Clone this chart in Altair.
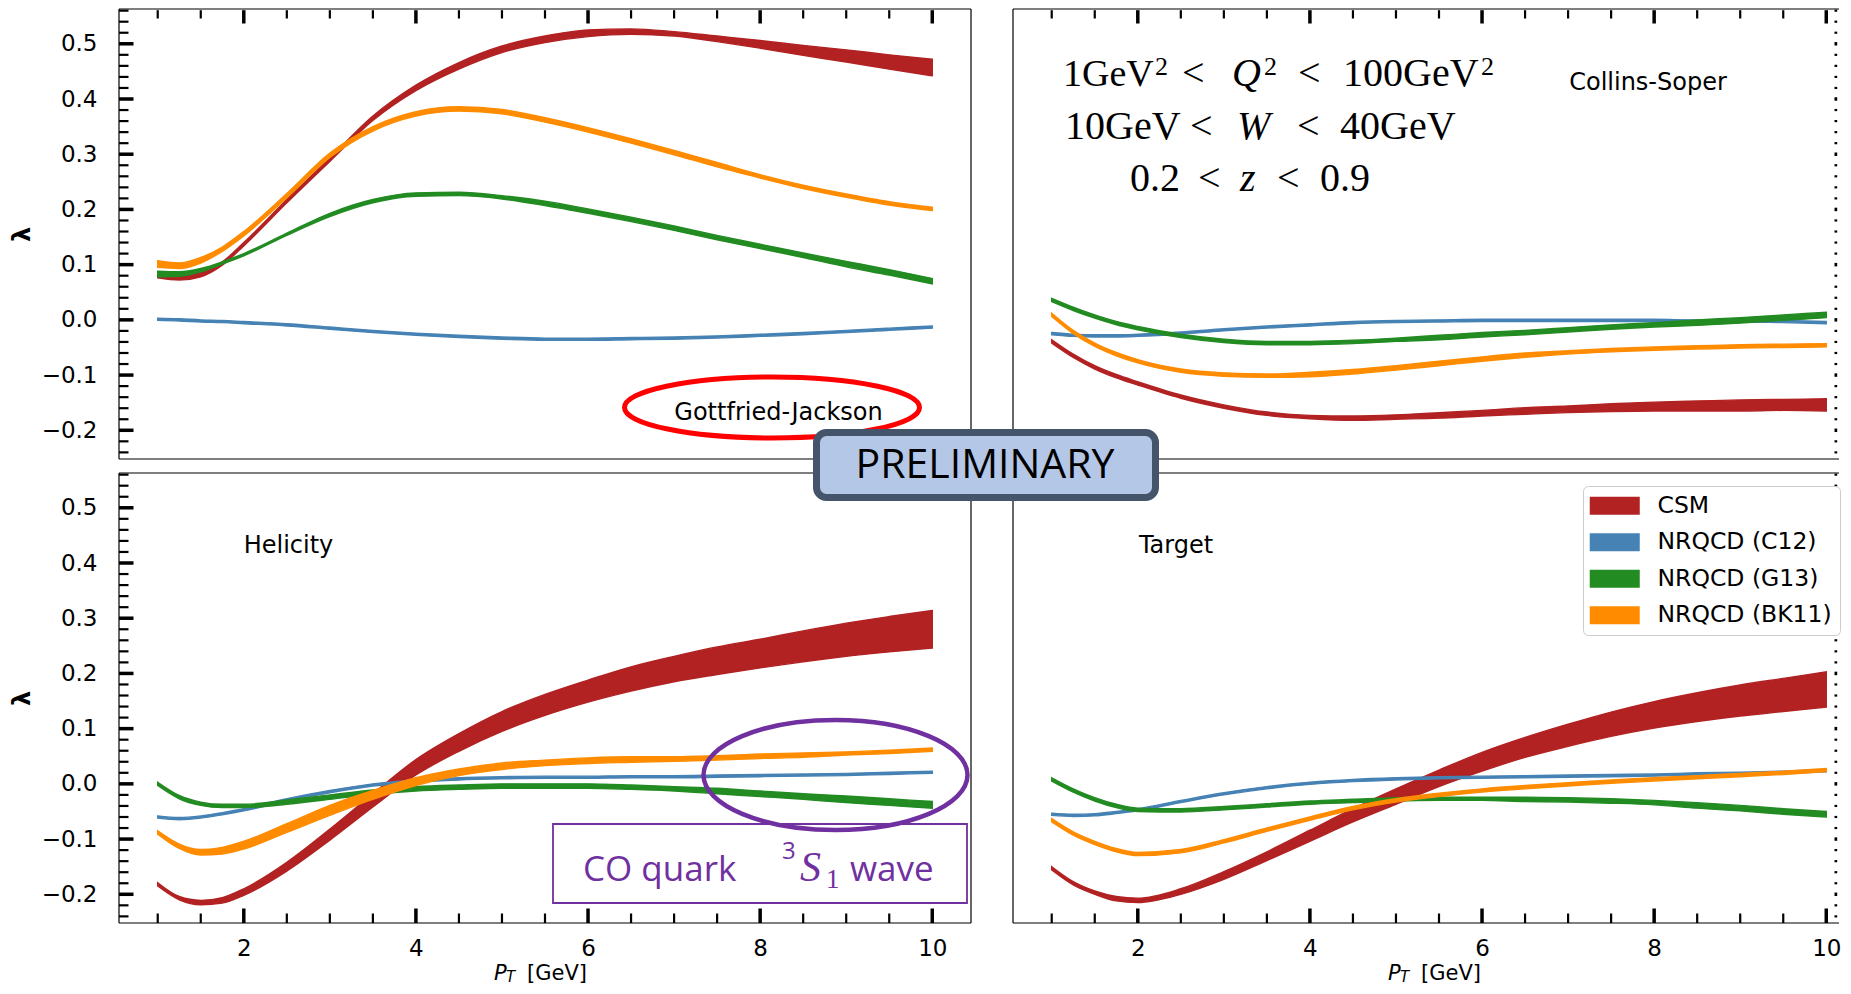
import altair as alt
import pandas as pd

# ---------------- data ----------------
PT = [1.0, 1.25, 1.5, 1.75, 2.0, 2.5, 3.0, 3.5, 4.0, 4.5, 5.0, 5.5, 6.0, 6.5, 7.0, 7.5, 8.0, 8.5, 9.0, 9.5, 10.0]
SERIES = ["CSM", "NRQCD (C12)", "NRQCD (G13)", "NRQCD (BK11)"]
COLORS = ["#b22222", "#4682b4", "#228b22", "#ff8c00"]
FRAMES = ["Gottfried-Jackson", "Collins-Soper", "Helicity", "Target"]

# Gottfried-Jackson (centre of band, half width of band)
GJ_CSM = [0.080, 0.076, 0.082, 0.102, 0.137, 0.215, 0.290, 0.365, 0.420, 0.460, 0.490, 0.508, 0.519, 0.522, 0.518, 0.509, 0.499, 0.488, 0.478, 0.467, 0.457]
GJ_CSM_HW = [0.004, 0.004, 0.004, 0.003, 0.003, 0.003, 0.003, 0.004, 0.005, 0.006, 0.006, 0.006, 0.006, 0.005, 0.004, 0.005, 0.007, 0.009, 0.011, 0.013, 0.015]
GJ_C12 = [0.001, 0.000, -0.002, -0.003, -0.005, -0.009, -0.015, -0.021, -0.026, -0.030, -0.033, -0.035, -0.035, -0.034, -0.033, -0.031, -0.028, -0.025, -0.021, -0.017, -0.013]
GJ_C12_HW = [0.002] * 21
GJ_G13 = [0.083, 0.083, 0.090, 0.103, 0.118, 0.155, 0.190, 0.215, 0.227, 0.228, 0.222, 0.211, 0.197, 0.182, 0.166, 0.149, 0.133, 0.117, 0.101, 0.086, 0.070]
GJ_G13_HW = [0.005, 0.004, 0.003, 0.002, 0.002, 0.002, 0.003, 0.003, 0.003, 0.003, 0.003, 0.004, 0.004, 0.004, 0.004, 0.004, 0.004, 0.004, 0.005, 0.005, 0.005]
GJ_BK11 = [0.101, 0.098, 0.108, 0.128, 0.156, 0.225, 0.298, 0.346, 0.373, 0.382, 0.377, 0.362, 0.344, 0.324, 0.303, 0.281, 0.260, 0.241, 0.225, 0.211, 0.201]
GJ_BK11_HW = [0.006, 0.005, 0.005, 0.004, 0.004, 0.004, 0.004, 0.004, 0.004, 0.004, 0.004, 0.004, 0.004, 0.004, 0.004, 0.004, 0.003, 0.003, 0.003, 0.003, 0.003]

# Collins-Soper
CS_CSM = [-0.039, -0.065, -0.086, -0.102, -0.115, -0.139, -0.157, -0.170, -0.176, -0.178, -0.176, -0.173, -0.169, -0.165, -0.162, -0.159, -0.157, -0.156, -0.155, -0.154, -0.154]
CS_CSM_HW = [0.003, 0.003, 0.003, 0.003, 0.003, 0.003, 0.003, 0.003, 0.003, 0.004, 0.004, 0.005, 0.005, 0.006, 0.006, 0.007, 0.008, 0.009, 0.010, 0.010, 0.011]
CS_C12 = [-0.025, -0.028, -0.029, -0.029, -0.028, -0.024, -0.018, -0.013, -0.009, -0.005, -0.003, -0.002, -0.001, -0.001, -0.001, -0.001, -0.001, -0.002, -0.002, -0.003, -0.005]
CS_C12_HW = [0.002] * 21
CS_G13 = [0.036, 0.020, 0.006, -0.006, -0.015, -0.029, -0.038, -0.042, -0.042, -0.040, -0.036, -0.032, -0.027, -0.023, -0.018, -0.013, -0.009, -0.005, -0.001, 0.004, 0.009]
CS_G13_HW = [0.003, 0.003, 0.003, 0.003, 0.003, 0.003, 0.003, 0.003, 0.003, 0.003, 0.003, 0.004, 0.004, 0.004, 0.004, 0.004, 0.004, 0.005, 0.005, 0.005, 0.005]
CS_BK11 = [0.009, -0.022, -0.045, -0.062, -0.075, -0.092, -0.099, -0.101, -0.099, -0.094, -0.087, -0.079, -0.071, -0.064, -0.059, -0.055, -0.052, -0.050, -0.048, -0.047, -0.046]
CS_BK11_HW = [0.003, 0.003, 0.003, 0.003, 0.003, 0.003, 0.003, 0.003, 0.004, 0.004, 0.004, 0.004, 0.004, 0.004, 0.003, 0.003, 0.003, 0.003, 0.003, 0.003, 0.003]

# Helicity
HX_CSM = [-0.182, -0.207, -0.215, -0.211, -0.196, -0.150, -0.092, -0.030, 0.030, 0.075, 0.113, 0.143, 0.168, 0.190, 0.208, 0.223, 0.236, 0.249, 0.261, 0.271, 0.280]
HX_CSM_HW = [0.003, 0.003, 0.004, 0.005, 0.006, 0.008, 0.010, 0.012, 0.014, 0.016, 0.018, 0.019, 0.020, 0.022, 0.023, 0.025, 0.026, 0.028, 0.030, 0.032, 0.034]
HX_C12 = [-0.060, -0.063, -0.060, -0.054, -0.047, -0.029, -0.014, -0.002, 0.005, 0.009, 0.011, 0.012, 0.012, 0.013, 0.013, 0.014, 0.015, 0.016, 0.017, 0.019, 0.021]
HX_C12_HW = [0.002] * 21
HX_G13 = [0.000, -0.024, -0.036, -0.040, -0.040, -0.033, -0.024, -0.015, -0.009, -0.006, -0.004, -0.004, -0.004, -0.006, -0.009, -0.013, -0.018, -0.023, -0.028, -0.033, -0.038]
HX_G13_HW = [0.003, 0.003, 0.003, 0.003, 0.003, 0.004, 0.004, 0.004, 0.004, 0.004, 0.004, 0.004, 0.004, 0.004, 0.004, 0.005, 0.005, 0.005, 0.006, 0.006, 0.006]
HX_BK11 = [-0.088, -0.113, -0.124, -0.121, -0.111, -0.080, -0.048, -0.020, 0.004, 0.021, 0.032, 0.038, 0.042, 0.044, 0.045, 0.047, 0.050, 0.052, 0.055, 0.058, 0.062]
HX_BK11_HW = [0.003, 0.004, 0.005, 0.006, 0.007, 0.008, 0.009, 0.008, 0.007, 0.006, 0.006, 0.005, 0.005, 0.005, 0.004, 0.004, 0.004, 0.004, 0.003, 0.003, 0.003]

# Target
TG_CSM = [-0.153, -0.180, -0.197, -0.208, -0.211, -0.195, -0.166, -0.131, -0.094, -0.057, -0.023, 0.010, 0.040, 0.066, 0.088, 0.108, 0.125, 0.139, 0.151, 0.161, 0.171]
TG_CSM_HW = [0.003, 0.003, 0.003, 0.004, 0.004, 0.005, 0.007, 0.008, 0.010, 0.012, 0.014, 0.015, 0.017, 0.018, 0.020, 0.022, 0.024, 0.026, 0.028, 0.030, 0.032]
TG_C12 = [-0.055, -0.057, -0.056, -0.052, -0.047, -0.032, -0.018, -0.007, 0.001, 0.006, 0.009, 0.011, 0.012, 0.013, 0.014, 0.015, 0.016, 0.018, 0.019, 0.021, 0.024]
TG_C12_HW = [0.002] * 21
TG_G13 = [0.008, -0.012, -0.028, -0.040, -0.047, -0.048, -0.044, -0.039, -0.034, -0.031, -0.028, -0.027, -0.027, -0.028, -0.029, -0.031, -0.034, -0.039, -0.044, -0.050, -0.055]
TG_G13_HW = [0.003, 0.003, 0.003, 0.003, 0.003, 0.003, 0.003, 0.003, 0.003, 0.003, 0.003, 0.003, 0.003, 0.004, 0.004, 0.004, 0.004, 0.005, 0.005, 0.005, 0.005]
TG_BK11 = [-0.066, -0.090, -0.107, -0.120, -0.127, -0.122, -0.104, -0.083, -0.063, -0.044, -0.030, -0.020, -0.012, -0.006, -0.001, 0.004, 0.008, 0.012, 0.016, 0.020, 0.025]
TG_BK11_HW = [0.003] * 21

X_MAJOR = [2, 4, 6, 8, 10]
X_MINOR = [1, 1.5, 2.5, 3, 3.5, 4.5, 5, 5.5, 6.5, 7, 7.5, 8.5, 9, 9.5]
Y_MAJOR = [-0.2, -0.1, 0.0, 0.1, 0.2, 0.3, 0.4, 0.5]
Y_MINOR = [-0.24, -0.22, -0.18, -0.16, -0.14, -0.12, -0.08, -0.06, -0.04, -0.02,
           0.02, 0.04, 0.06, 0.08, 0.12, 0.14, 0.16, 0.18, 0.22, 0.24, 0.26, 0.28,
           0.32, 0.34, 0.36, 0.38, 0.42, 0.44, 0.46, 0.48, 0.52, 0.54, 0.56]

BANDS = {
    "Gottfried-Jackson": [(GJ_CSM, GJ_CSM_HW), (GJ_C12, GJ_C12_HW), (GJ_G13, GJ_G13_HW), (GJ_BK11, GJ_BK11_HW)],
    "Collins-Soper": [(CS_CSM, CS_CSM_HW), (CS_C12, CS_C12_HW), (CS_G13, CS_G13_HW), (CS_BK11, CS_BK11_HW)],
    "Helicity": [(HX_CSM, HX_CSM_HW), (HX_C12, HX_C12_HW), (HX_G13, HX_G13_HW), (HX_BK11, HX_BK11_HW)],
    "Target": [(TG_CSM, TG_CSM_HW), (TG_C12, TG_C12_HW), (TG_G13, TG_G13_HW), (TG_BK11, TG_BK11_HW)],
}


def frame_table(frame):
    rec = []
    for s, (centre, hw) in zip(SERIES, BANDS[frame]):
        for x, c, h in zip(PT, centre, hw):
            rec.append({"kind": "band", "series": s, "pt": x,
                        "lo": round(c - h, 4), "hi": round(c + h, 4)})
    rec += [{"kind": "xmaj", "pt": v} for v in X_MAJOR]
    rec += [{"kind": "xmin", "pt": v} for v in X_MINOR]
    rec += [{"kind": "ymaj", "lo": v} for v in Y_MAJOR]
    rec += [{"kind": "ymin", "lo": v} for v in Y_MINOR]
    rec.append({"kind": "anchor"})
    return pd.DataFrame(rec)


# ---------------- layout / style ----------------
H = 450
W_LEFT, W_RIGHT = 852, 826
PX_PER_UNIT = W_LEFT / 9.9
FONT = "DejaVu Sans"
SERIF = "Liberation Serif"
PURPLE = "#7030a0"
YS = alt.Scale(domain=[-0.252, 0.563], nice=False, zero=False)

SWATCH = "M-2.778,-1L2.778,-1L2.778,1L-2.778,1Z"
COLOR = alt.Color("series:N", scale=alt.Scale(domain=SERIES, range=COLORS),
                  legend=alt.Legend(orient="none", legendX=1464, legendY=477, title=None,
                                    symbolType=SWATCH, symbolSize=324, symbolStrokeWidth=0,
                                    symbolOffset=12, labelOffset=31, labelFont=FONT,
                                    labelFontSize=23.5, labelColor="black", labelLimit=400,
                                    rowPadding=11.5, padding=8, fillColor="white",
                                    strokeColor="#cccccc", cornerRadius=5))

base = alt.Chart()
ANCHOR = "datum.kind == 'anchor'"


def ellipse(ratio):
    k = 0.5523
    r = ratio
    return (f"M-1,0C-1,{-k*r:.4f} {-k},{-r:.4f} 0,{-r:.4f}"
            f"C{k},{-r:.4f} 1,{-k*r:.4f} 1,0"
            f"C1,{k*r:.4f} {k},{r:.4f} 0,{r:.4f}"
            f"C{-k},{r:.4f} -1,{k*r:.4f} -1,0Z")


def note(text, x, y, **mk):
    props = dict(font=FONT, fontSize=24, color="black", align="center", baseline="middle")
    props.update(mk)
    return base.mark_text(**props).encode(
        x=alt.value(x), y=alt.value(y), text=alt.value(text)).transform_filter(ANCHOR)


def hline(y, x1, x2, sw=1.2):
    return base.mark_rule(color="black", strokeWidth=sw).encode(
        x=alt.value(x1), x2=alt.value(x2), y=alt.value(y)).transform_filter(ANCHOR)


def vline(x, y1, y2, sw=1.2):
    return base.mark_rule(color="black", strokeWidth=sw).encode(
        x=alt.value(x), y=alt.value(y1), y2=alt.value(y2)).transform_filter(ANCHOR)


def panel(frame, row, col, extra):
    W = W_LEFT if col == "left" else W_RIGHT
    xs = alt.Scale(domain=[0.55, 0.55 + W / PX_PER_UNIT], nice=False, zero=False)
    xaxis = (alt.Axis(values=X_MAJOR, format="d", title=None, labelPadding=14.5)
             if row == "bottom" else None)
    yaxis = (alt.Axis(values=Y_MAJOR, format=".1f", title="λ", labelPadding=22, titlePadding=7)
             if col == "left" else None)
    X = alt.X("pt:Q", scale=xs, axis=xaxis)
    Y = alt.Y("lo:Q", scale=YS, axis=yaxis)

    layers = []
    for s, c in zip(SERIES, COLORS):
        layers.append(
            base.mark_area(interpolate="monotone", stroke=c, strokeWidth=1.4, opacity=1)
            .encode(x=X, y=Y, y2="hi:Q", color=COLOR)
            .transform_filter(f"datum.kind == 'band' && datum.series == '{s}'"))

    # inward ticks
    for kind, length, sw in [("xmaj", 14.5, 3.5), ("xmin", 9.5, 2.2)]:
        y1, y2 = (1.2, length) if row == "top" else (H - length, H)
        layers.append(base.mark_rule(color="black", strokeWidth=sw)
                      .encode(x=X, y=alt.value(y1), y2=alt.value(y2))
                      .transform_filter(f"datum.kind == '{kind}'"))
    for kind, length, sw in [("ymaj", 14.5, 3.5), ("ymin", 9.5, 2.2)]:
        if col == "left":
            x1, x2 = 0, length
        else:  # the right frame of the right-hand panels is cut off: only tick tips show
            x1, x2 = W - 4.5, W - 1.8
        layers.append(base.mark_rule(color="black", strokeWidth=sw)
                      .encode(y=Y, x=alt.value(x1), x2=alt.value(x2))
                      .transform_filter(f"datum.kind == '{kind}'"))

    # frame
    layers += [hline(0, 0, W), hline(H, 0, W), vline(0, 0, H)]
    if col == "left":
        layers.append(vline(W, 0, H))

    # x-axis title P_T [GeV]
    if row == "bottom":
        layers += [
            note("P", 375, 507, fontSize=21, align="left", baseline="alphabetic", fontStyle="italic"),
            note("T", 387, 509, fontSize=15, align="left", baseline="alphabetic", fontStyle="italic"),
            note("[GeV]", 408, 507, fontSize=21, align="left", baseline="alphabetic"),
        ]
    layers += extra
    return alt.layer(*layers, data=frame_table(frame)).properties(width=W, height=H)


# ---------------- annotations ----------------
gj_extra = [
    note("Gottfried-Jackson", 659.5, 403.7),
    base.mark_point(shape=ellipse(30.5 / 147.5), size=295 ** 2, filled=False,
                    stroke="#ff0000", strokeWidth=5, opacity=1)
    .encode(x=alt.value(653), y=alt.value(398.5)).transform_filter(ANCHOR),
]

# kinematic cuts: (text, x, baseline, style, size)
cuts = [
    ("1GeV", 50, 77, "normal", 38), ("2", 142, 66, "normal", 26), ("<", 169, 77, "normal", 40),
    ("Q", 219, 77, "italic", 40), ("2", 251, 66, "normal", 26), ("<", 285, 77, "normal", 40),
    ("100GeV", 330, 77, "normal", 40), ("2", 468, 66, "normal", 26),
    ("10GeV", 52, 130, "normal", 40), ("<", 177, 130, "normal", 40), ("W", 224, 130, "italic", 40),
    ("<", 284, 130, "normal", 40), ("40GeV", 327, 130, "normal", 40),
    ("0.2", 117, 182, "normal", 40), ("<", 185, 182, "normal", 40), ("z", 227, 182, "italic", 40),
    ("<", 264, 182, "normal", 40), ("0.9", 307, 182, "normal", 40),
]
cs_extra = [note("Collins-Soper", 635, 73.7)]
for txt, x, y, style, size in cuts:
    cs_extra.append(note(txt, x, y, font=SERIF, fontSize=size, align="left",
                         baseline="alphabetic", fontStyle=style))

hx_extra = [
    note("Helicity", 169.5, 73),
    base.mark_point(shape=ellipse(55 / 132), size=264 ** 2, filled=False,
                    stroke=PURPLE, strokeWidth=4.5, opacity=1)
    .encode(x=alt.value(716.5), y=alt.value(302)).transform_filter(ANCHOR),
    base.mark_rect(filled=False, stroke=PURPLE, strokeWidth=1.8)
    .encode(x=alt.value(434), x2=alt.value(848), y=alt.value(351), y2=alt.value(430))
    .transform_filter(ANCHOR),
    note("CO quark", 464, 408, font="Open Sans", fontSize=35, color=PURPLE,
         align="left", baseline="alphabetic"),
    note("3", 663, 386, font="Open Sans", fontSize=24, color=PURPLE,
         align="left", baseline="alphabetic"),
    note("S", 681, 408, font=SERIF, fontSize=42, fontStyle="italic", color=PURPLE,
         align="left", baseline="alphabetic"),
    note("1", 707, 415, font=SERIF, fontSize=27, color=PURPLE,
         align="left", baseline="alphabetic"),
    note("wave", 731, 408, font="Open Sans", fontSize=35, color=PURPLE,
         align="left", baseline="alphabetic"),
]

tg_extra = [
    note("Target", 163, 73),
    # PRELIMINARY stamp, drawn in the last panel so it sits on top of everything
    base.mark_rect(fill="#b4c7e7", stroke="#44546a", strokeWidth=7, cornerRadius=10)
    .encode(x=alt.value(-196.5), x2=alt.value(142.5), y=alt.value(-40.5), y2=alt.value(24.5))
    .transform_filter(ANCHOR),
    note("PRELIMINARY", -28, -7, font="Open Sans", fontSize=41),
]

tl = panel("Gottfried-Jackson", "top", "left", gj_extra)
tr = panel("Collins-Soper", "top", "right", cs_extra)
bl = panel("Helicity", "bottom", "left", hx_extra)
br = panel("Target", "bottom", "right", tg_extra)

chart = (
    alt.concat(tl, tr, bl, br, columns=2, spacing={"row": 14, "column": 42},
               bounds="flush", align="each")
    .properties(padding={"left": 2, "top": 0, "right": 0, "bottom": 0})
    .configure_view(strokeWidth=0)
    .configure_axis(labelFont=FONT, labelFontSize=23, labelColor="black",
                    titleFont=FONT, titleFontSize=24, titleColor="black", titleFontWeight="bold",
                    grid=False, ticks=False, domain=False, tickSize=0)
)

chart.save("out.html", embed_options={"renderer": "svg", "actions": False})
